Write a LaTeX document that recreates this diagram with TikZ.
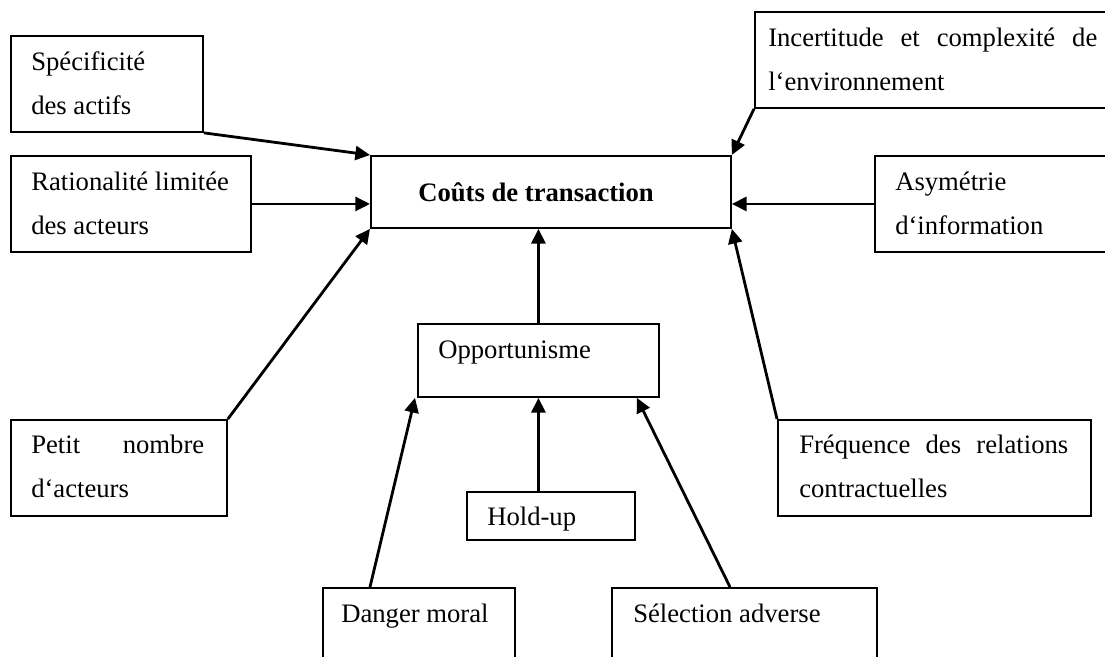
\documentclass[tikz,border=0pt]{standalone}
\usepackage{fontspec}
\setmainfont{Liberation Serif}
\usetikzlibrary{arrows.meta,calc}
\newdimen\pxu \pxu=0.75pt
\newcommand\mybox[5]{\node[box, minimum width={(#4-#2)*0.75pt}, minimum height={(#5-#3)*0.75pt}] (#1) at (#2,#3) {};}
\begin{document}
\begin{tikzpicture}[x=0.75pt,y=-0.75pt,
  box/.style={draw, line width=1.4pt, inner sep=0pt, anchor=north west},
  lbl/.style={anchor=base west, inner sep=0pt, align=left, font=\fontsize{20}{33}\selectfont},
  arr/.style={line width=2.1pt, -{Triangle[length=11pt,width=10.5pt]}}]
\useasboundingbox (0,0) rectangle (1105,656);
% boxes
\mybox{spec}{10}{35}{202}{131}
\mybox{rat}{10}{155}{250}{251}
\mybox{cout}{370}{155}{730}{227}
\mybox{incert}{754}{11}{1115}{107}
\mybox{asym}{874}{155}{1115}{251}
\mybox{petit}{10}{419}{226}{515}
\mybox{freq}{777}{419}{1090}{515}
\mybox{opp}{417}{323}{658}{396}
\mybox{hold}{466}{491}{634}{539}
\mybox{danger}{322}{587}{514}{680}
\mybox{selec}{611}{587}{876}{680}
% texts (base anchor = baseline of last line)
\node[lbl] (tspec) at (31,115) {Spécificité\\des actifs};
\node[lbl] (trat) at (31,234) {Rationalité limitée\\des acteurs};
\node[lbl, font=\fontsize{20}{33}\selectfont\bfseries] (tcout) at (418,201) {Coûts de transaction};
\node[lbl] (tincert) at (768,91) {\makebox[329\pxu][s]{Incertitude et complexité de}\\l‘environnement};
\node[lbl] (tasym) at (895,234) {Asymétrie\\d‘information};
\node[lbl] (tpetit) at (31,497) {\makebox[173\pxu][s]{Petit nombre}\\d‘acteurs};
\node[lbl] (tfreq) at (799,497) {\makebox[269\pxu][s]{Fréquence des relations}\\contractuelles};
\node[lbl] (topp) at (438,358) {Opportunisme};
\node[lbl] (thold) at (487,525) {Hold-up};
\node[lbl] (tdanger) at (341,622) {Danger moral};
\node[lbl] (tselec) at (633,622) {Sélection adverse};
% connectors
\draw[arr] (spec.south east) -- (cout.north west);
\draw[arr] (rat.east) -- (rat.east -| cout.west);
\draw[arr] (petit.north east) -- (cout.south west);
\draw[arr] (incert.south west) -- (cout.north east);
\draw[arr] (asym.west) -- (asym.west -| cout.east);
\draw[arr] (freq.north west) -- (cout.south east);
\draw[arr] (opp.north) -- (opp.north |- cout.south);
\draw[arr] (opp.south |- hold.north) -- (opp.south);
\draw[arr] ($(danger.north west)+(48,0)$) -- ($(opp.south west)+(-2,0)$);
\draw[arr] ($(selec.north west)+(119,0)$) -- ($(opp.south east)+(-23,0)$);
\end{tikzpicture}
\end{document}
